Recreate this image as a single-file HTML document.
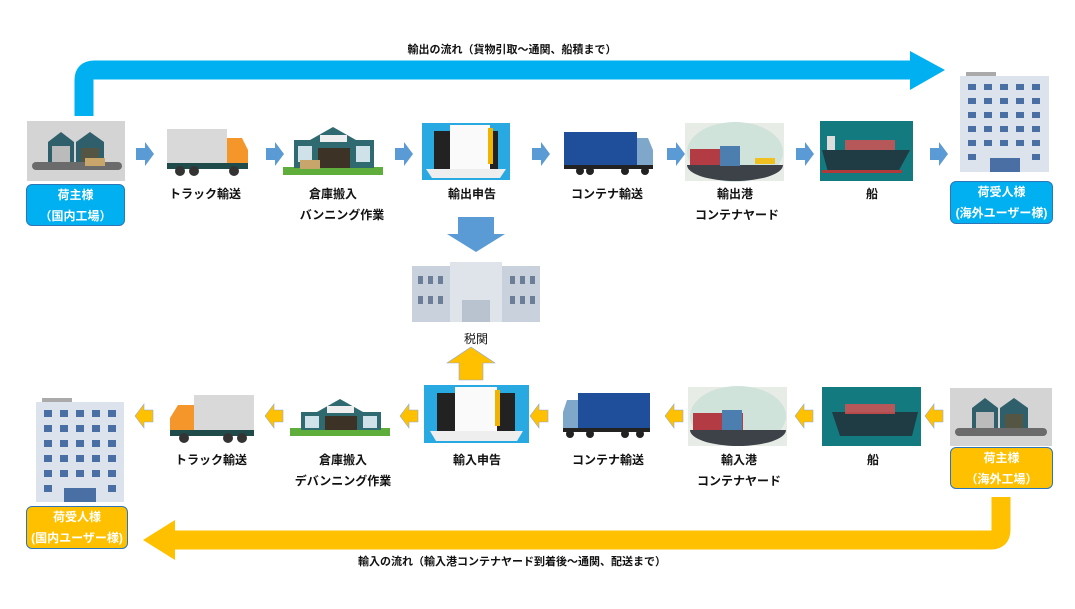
<!DOCTYPE html>
<html><head><meta charset="utf-8"><style>
body{margin:0;width:1075px;height:609px;background:#fff;position:relative;overflow:hidden;font-family:"Liberation Sans","Noto Sans CJK JP",sans-serif;}
.a{position:absolute}
.t{position:absolute;font-size:12px;font-weight:bold;color:#111;text-align:center;white-space:nowrap;transform:translateX(-50%)}
.lb{position:absolute;border-radius:6px;color:#fff;font-weight:bold;font-size:12px;text-align:center;line-height:21px;box-sizing:border-box}
</style></head><body>
<svg class="a" style="left:0;top:0" width="1075" height="609">
<!-- blue top arrow -->
<path d="M84 116 V80 Q84 70 94 70 H912" stroke="#00b0f0" stroke-width="19" fill="none"/>
<polygon points="910,51 945,70 910,90" fill="#00b0f0"/>
<!-- yellow bottom arrow -->
<path d="M1001 497 V530 Q1001 540 991 540 H172" stroke="#ffc000" stroke-width="19" fill="none"/>
<polygon points="175,520 143,540 175,560" fill="#ffc000"/>
<!-- small blue arrows -->
<g fill="#5b9bd5">
<polygon points="136,148 145,148 145,142 154,154 145,166 145,160 136,160"/>
<polygon points="266,148 275,148 275,142 284,154 275,166 275,160 266,160"/>
<polygon points="395,148 404,148 404,142 413,154 404,166 404,160 395,160"/>
<polygon points="532,148 541,148 541,142 550,154 541,166 541,160 532,160"/>
<polygon points="667,148 676,148 676,142 685,154 676,166 676,160 667,160"/>
<polygon points="796,148 805,148 805,142 814,154 805,166 805,160 796,160"/>
<polygon points="930,148 939,148 939,142 948,154 939,166 939,160 930,160"/>
<polygon points="458,217 494,217 494,234 505,234 476,252 447,234 458,234"/>
</g>
<!-- small orange arrows -->
<g fill="#ffc000" stroke="#8faadc" stroke-width="0.6">
<polygon points="153,410 144,410 144,404 135,416 144,428 144,422 153,422"/>
<polygon points="283,410 274,410 274,404 265,416 274,428 274,422 283,422"/>
<polygon points="418,410 409,410 409,404 400,416 409,428 409,422 418,422"/>
<polygon points="548,410 539,410 539,404 530,416 539,428 539,422 548,422"/>
<polygon points="683,410 674,410 674,404 665,416 674,428 674,422 683,422"/>
<polygon points="813,410 804,410 804,404 795,416 804,428 804,422 813,422"/>
<polygon points="943,410 934,410 934,404 925,416 934,428 934,422 943,422"/>
<polygon points="459,380 483,380 483,363 495,363 471,347 447,363 459,363"/>
</g>
<!-- factory top -->
<rect x="27" y="121" width="98" height="60" fill="#d4d4d4"/>
<rect x="32" y="162" width="90" height="8" rx="4" fill="#6b6b6b"/>
<polygon points="48,142 61,132 74,142 74,162 48,162" fill="#2f5f6a"/>
<polygon points="76,142 90,132 104,142 104,162 76,162" fill="#2f5f6a"/>
<rect x="52" y="146" width="18" height="16" fill="#bbb"/><rect x="81" y="148" width="18" height="14" fill="#554"/>
<rect x="85" y="158" width="20" height="8" fill="#c8a56a"/>
<!-- truck top -->
<rect x="167" y="129" width="60" height="35" fill="#d9d9d9"/>
<path d="M227 138 H242 L248 150 V165 H227Z" fill="#f5962a"/>
<rect x="167" y="163" width="81" height="6" fill="#1f4b4a"/>
<circle cx="180" cy="171" r="5" fill="#333"/><circle cx="194" cy="171" r="5" fill="#333"/><circle cx="234" cy="171" r="5" fill="#333"/>
<!-- warehouse top -->
<rect x="283" y="167" width="100" height="8" fill="#5fae3c"/>
<rect x="294" y="140" width="80" height="28" fill="#2f6a70"/>
<polygon points="310,140 333,127 356,140" fill="#2f6a70"/>
<rect x="320" y="135" width="27" height="7" fill="#eee"/>
<rect x="318" y="148" width="32" height="20" fill="#3c3226"/>
<rect x="298" y="146" width="14" height="16" fill="#cfe2ea"/><rect x="356" y="146" width="14" height="16" fill="#cfe2ea"/>
<rect x="300" y="160" width="20" height="9" fill="#c8a56a"/>
<!-- laptop top -->
<rect x="422" y="123" width="88" height="57" fill="#29a9e1"/>
<rect x="434" y="131" width="64" height="38" fill="#222"/>
<polygon points="426,169 506,169 500,178 432,178" fill="#eee"/>
<rect x="450" y="125" width="40" height="44" fill="#fafafa"/>
<rect x="488" y="128" width="5" height="36" fill="#f0b400"/>
<!-- container truck top -->
<rect x="564" y="132" width="73" height="34" fill="#1f4f9a"/>
<path d="M637 138 H648 L653 150 V168 H637Z" fill="#7fa7c9"/>
<rect x="564" y="165" width="89" height="4" fill="#222"/>
<circle cx="580" cy="171" r="4" fill="#222"/><circle cx="590" cy="171" r="4" fill="#222"/><circle cx="625" cy="171" r="4" fill="#222"/><circle cx="645" cy="171" r="4" fill="#222"/>
<!-- port top -->
<rect x="685" y="123" width="99" height="58" fill="#e8ece6"/>
<ellipse cx="735" cy="152" rx="48" ry="30" fill="#cfe3da"/>
<path d="M687 165 H783 A48 16 0 0 1 687 165Z" fill="#3c4247"/>
<rect x="690" y="149" width="50" height="16" fill="#b23b44"/><rect x="720" y="146" width="20" height="20" fill="#4c7fb0"/>
<rect x="755" y="158" width="20" height="6" fill="#f0c020"/>
<!-- ship top -->
<rect x="820" y="121" width="93" height="60" fill="#137a80"/>
<path d="M822 150 H910 L898 172 H828Z" fill="#1f3b44"/>
<rect x="822" y="170" width="80" height="3" fill="#b03a3a"/>
<rect x="845" y="140" width="50" height="10" fill="#e05050" opacity="0.8"/>
<rect x="827" y="136" width="8" height="14" fill="#ddd"/>
<!-- building top -->
<rect x="966" y="72" width="30" height="4" fill="#aaa"/>
<rect x="960" y="76" width="89" height="96" fill="#dde3ec"/>
<g fill="#4a6fa5">
<rect x="968" y="84" width="8" height="6"/><rect x="984" y="84" width="8" height="6"/><rect x="1000" y="84" width="8" height="6"/><rect x="1016" y="84" width="8" height="6"/><rect x="1032" y="84" width="8" height="6"/>
<rect x="968" y="98" width="8" height="6"/><rect x="984" y="98" width="8" height="6"/><rect x="1000" y="98" width="8" height="6"/><rect x="1016" y="98" width="8" height="6"/><rect x="1032" y="98" width="8" height="6"/>
<rect x="968" y="112" width="8" height="6"/><rect x="984" y="112" width="8" height="6"/><rect x="1000" y="112" width="8" height="6"/><rect x="1016" y="112" width="8" height="6"/><rect x="1032" y="112" width="8" height="6"/>
<rect x="968" y="126" width="8" height="6"/><rect x="984" y="126" width="8" height="6"/><rect x="1000" y="126" width="8" height="6"/><rect x="1016" y="126" width="8" height="6"/><rect x="1032" y="126" width="8" height="6"/>
<rect x="968" y="140" width="8" height="6"/><rect x="984" y="140" width="8" height="6"/><rect x="1000" y="140" width="8" height="6"/><rect x="1016" y="140" width="8" height="6"/><rect x="1032" y="140" width="8" height="6"/>
<rect x="968" y="154" width="8" height="6"/><rect x="1032" y="154" width="8" height="6"/><rect x="990" y="158" width="30" height="14"/>
</g>
<!-- customs -->
<rect x="412" y="266" width="128" height="56" fill="#c9d1dc"/>
<rect x="450" y="262" width="52" height="60" fill="#dfe4ea"/>
<rect x="462" y="300" width="28" height="22" fill="#b9c2cf"/>
<g fill="#6d7f98"><rect x="418" y="276" width="5" height="8"/><rect x="428" y="276" width="5" height="8"/><rect x="438" y="276" width="5" height="8"/><rect x="510" y="276" width="5" height="8"/><rect x="520" y="276" width="5" height="8"/><rect x="530" y="276" width="5" height="8"/><rect x="418" y="296" width="5" height="8"/><rect x="428" y="296" width="5" height="8"/><rect x="438" y="296" width="5" height="8"/><rect x="510" y="296" width="5" height="8"/><rect x="520" y="296" width="5" height="8"/><rect x="530" y="296" width="5" height="8"/></g>
<!-- building bottom -->
<rect x="42" y="398" width="30" height="4" fill="#aaa"/>
<rect x="36" y="402" width="88" height="100" fill="#dde3ec"/>
<g fill="#4a6fa5">
<rect x="44" y="410" width="8" height="7"/><rect x="60" y="410" width="8" height="7"/><rect x="76" y="410" width="8" height="7"/><rect x="92" y="410" width="8" height="7"/><rect x="108" y="410" width="8" height="7"/>
<rect x="44" y="425" width="8" height="7"/><rect x="60" y="425" width="8" height="7"/><rect x="76" y="425" width="8" height="7"/><rect x="92" y="425" width="8" height="7"/><rect x="108" y="425" width="8" height="7"/>
<rect x="44" y="440" width="8" height="7"/><rect x="60" y="440" width="8" height="7"/><rect x="76" y="440" width="8" height="7"/><rect x="92" y="440" width="8" height="7"/><rect x="108" y="440" width="8" height="7"/>
<rect x="44" y="455" width="8" height="7"/><rect x="60" y="455" width="8" height="7"/><rect x="76" y="455" width="8" height="7"/><rect x="92" y="455" width="8" height="7"/><rect x="108" y="455" width="8" height="7"/>
<rect x="44" y="470" width="8" height="7"/><rect x="60" y="470" width="8" height="7"/><rect x="76" y="470" width="8" height="7"/><rect x="92" y="470" width="8" height="7"/><rect x="108" y="470" width="8" height="7"/>
<rect x="44" y="485" width="8" height="7"/><rect x="108" y="485" width="8" height="7"/><rect x="64" y="488" width="32" height="14"/>
</g>
<!-- truck bottom -->
<rect x="194" y="395" width="60" height="35" fill="#d9d9d9"/>
<path d="M194 405 H178 L170 418 V432 H194Z" fill="#f5962a"/>
<rect x="170" y="430" width="84" height="6" fill="#1f4b4a"/>
<circle cx="184" cy="438" r="5" fill="#333"/><circle cx="228" cy="438" r="5" fill="#333"/><circle cx="242" cy="438" r="5" fill="#333"/>
<!-- warehouse bottom -->
<rect x="290" y="428" width="100" height="8" fill="#5fae3c"/>
<rect x="301" y="412" width="80" height="18" fill="#2f6a70"/>
<polygon points="317,412 340,399 363,412" fill="#2f6a70"/>
<rect x="327" y="406" width="27" height="7" fill="#eee"/>
<rect x="325" y="416" width="32" height="14" fill="#3c3226"/>
<rect x="305" y="416" width="14" height="12" fill="#cfe2ea"/><rect x="363" y="416" width="14" height="12" fill="#cfe2ea"/>
<!-- laptop bottom -->
<rect x="424" y="385" width="105" height="58" fill="#29a9e1"/>
<rect x="437" y="393" width="78" height="38" fill="#222"/>
<polygon points="430,431 523,431 517,441 436,441" fill="#eee"/>
<rect x="455" y="387" width="42" height="44" fill="#fafafa"/>
<rect x="495" y="390" width="5" height="36" fill="#f0b400"/>
<!-- container truck bottom -->
<rect x="578" y="393" width="72" height="36" fill="#1f4f9a"/>
<path d="M578 400 H567 L563 412 V430 H578Z" fill="#7fa7c9"/>
<rect x="563" y="428" width="87" height="4" fill="#222"/>
<circle cx="570" cy="434" r="4" fill="#222"/><circle cx="590" cy="434" r="4" fill="#222"/><circle cx="625" cy="434" r="4" fill="#222"/><circle cx="640" cy="434" r="4" fill="#222"/>
<!-- port bottom -->
<rect x="688" y="387" width="99" height="59" fill="#e8ece6"/>
<ellipse cx="738" cy="416" rx="48" ry="30" fill="#cfe3da"/>
<path d="M690 430 H786 A48 16 0 0 1 690 430Z" fill="#3c4247"/>
<rect x="693" y="413" width="50" height="17" fill="#b23b44"/><rect x="722" y="410" width="20" height="20" fill="#4c7fb0"/>
<!-- ship bottom -->
<rect x="822" y="387" width="99" height="59" fill="#137a80"/>
<path d="M832 412 H918 L912 436 H840Z" fill="#1f3b44"/>
<rect x="845" y="404" width="50" height="10" fill="#e05050" opacity="0.8"/>
<!-- factory bottom -->
<rect x="950" y="388" width="102" height="58" fill="#d4d4d4"/>
<rect x="955" y="428" width="92" height="8" rx="4" fill="#6b6b6b"/>
<polygon points="972,408 985,398 998,408 998,428 972,428" fill="#2f5f6a"/>
<polygon points="1000,408 1014,398 1028,408 1028,428 1000,428" fill="#2f5f6a"/>
<rect x="976" y="412" width="18" height="16" fill="#bbb"/><rect x="1005" y="414" width="18" height="14" fill="#554"/>
</svg>
<div class="t" style="left:512px;top:41px;font-size:11px">輸出の流れ（貨物引取～通関、船積まで）</div>
<div class="lb" style="left:26px;top:184px;width:99px;height:42px;background:#00b0f0;border:1px solid #2e75b6;padding-top:0">荷主様<br>（国内工場）</div>
<div class="lb" style="left:950px;top:181px;width:103px;height:43px;background:#00b0f0;border:1px solid #2e75b6">荷受人様<br>(海外ユーザー様)</div>
<div class="lb" style="left:26px;top:506px;width:102px;height:43px;background:#ffc000;border:1px solid #2e75b6">荷受人様<br>(国内ユーザー様)</div>
<div class="lb" style="left:950px;top:447px;width:103px;height:42px;background:#ffc000;border:1px solid #2e75b6">荷主様<br>（海外工場）</div>
<div class="t" style="left:205px;top:185px">トラック輸送</div>
<div class="t" style="left:333px;top:185px">倉庫搬入</div>
<div class="t" style="left:342px;top:206px">バンニング作業</div>
<div class="t" style="left:472px;top:185px">輸出申告</div>
<div class="t" style="left:607px;top:185px">コンテナ輸送</div>
<div class="t" style="left:735px;top:185px">輸出港</div>
<div class="t" style="left:737px;top:206px">コンテナヤード</div>
<div class="t" style="left:872px;top:185px">船</div>
<div class="t" style="left:476px;top:330px;font-weight:normal">税関</div>
<div class="t" style="left:211px;top:451px">トラック輸送</div>
<div class="t" style="left:343px;top:451px">倉庫搬入</div>
<div class="t" style="left:343px;top:472px">デバンニング作業</div>
<div class="t" style="left:477px;top:451px">輸入申告</div>
<div class="t" style="left:608px;top:451px">コンテナ輸送</div>
<div class="t" style="left:739px;top:451px">輸入港</div>
<div class="t" style="left:739px;top:472px">コンテナヤード</div>
<div class="t" style="left:873px;top:451px">船</div>
<div class="t" style="left:512px;top:553px;font-size:11px">輸入の流れ（輸入港コンテナヤード到着後～通関、配送まで）</div>
</body></html>
